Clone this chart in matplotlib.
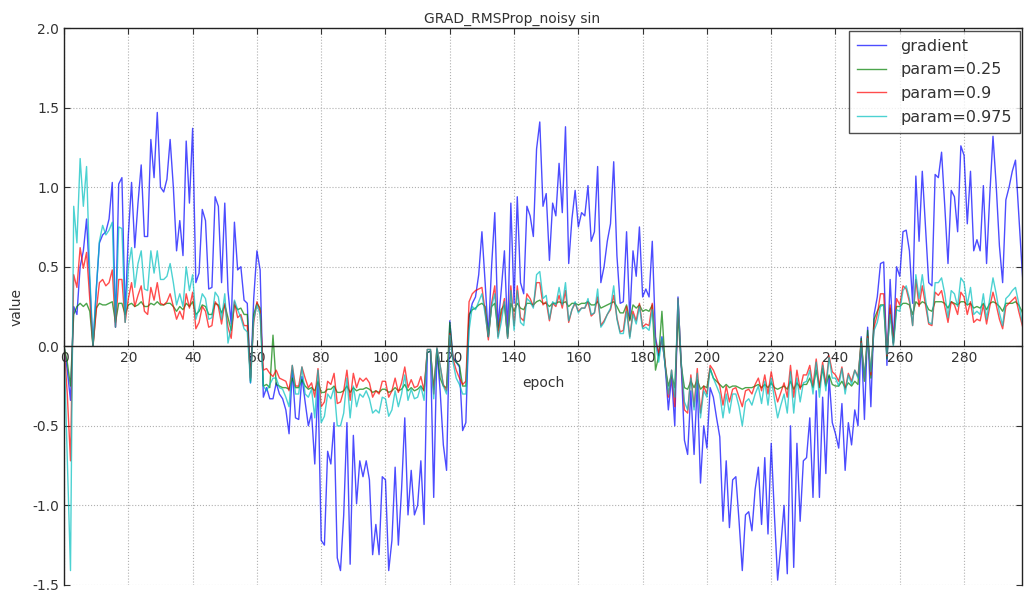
import matplotlib
matplotlib.use("Agg")
import matplotlib.pyplot as plt
import numpy as np

title = "GRAD_RMSProp_noisy sin"
x_label = "epoch"
y_label = "value"
series_labels = ["gradient", "param=0.25", "param=0.9", "param=0.975"]
x_ticks = list(range(0, 300, 20))
y_ticks = [-1.5, -1.0, -0.5, 0.0, 0.5, 1.0, 1.5, 2.0]

gradient = [
    0.0, -0.15, -0.34, 0.25, 0.2, 0.5, 0.6, 0.8, 0.4, 0.0,
    0.35, 0.65, 0.7, 0.72, 0.8, 1.03, 0.12, 1.02, 1.06, 0.2,
    0.7, 1.03, 0.62, 0.9, 1.14, 0.69, 0.69, 1.30, 1.06, 1.47,
    1.0, 0.97, 1.05, 1.30, 1.0, 0.6, 0.79, 0.57, 1.29, 0.9,
    1.37, 0.4, 0.46, 0.86, 0.79, 0.36, 0.37, 0.94, 0.88, 0.4,
    0.9, 0.35, 0.14, 0.78, 0.48, 0.5, 0.29, 0.27, -0.23, 0.3,
    0.6, 0.48, -0.32, -0.26, -0.33, -0.33, -0.23, -0.3, -0.33, -0.4,
    -0.55, -0.15, -0.45, -0.46, -0.19, -0.35, -0.50, -0.42, -0.74, -0.23,
    -1.22, -1.25, -0.66, -0.74, -0.48, -1.33, -1.41, -1.06, -0.48, -1.37,
    -0.56, -0.99, -0.72, -0.82, -0.72, -0.84, -1.31, -1.12, -1.31, -0.82,
    -0.84, -1.41, -1.22, -0.76, -1.25, -0.9, -0.45, -1.06, -0.78, -1.06,
    -1.0, -0.72, -1.12, -0.04, -0.03, -0.95, -0.02, -0.28, -0.62, -0.78,
    0.16, -0.07, -0.1, -0.13, -0.53, -0.48, 0.18, 0.27, 0.31, 0.45,
    0.72, 0.4, 0.06, 0.5, 0.84, 0.12, 0.35, 0.6, 0.08, 0.9,
    0.27, 0.94, 0.4, 0.33, 0.88, 0.82, 0.69, 1.24, 1.41, 0.88,
    0.96, 0.54, 0.9, 0.82, 1.15, 0.84, 1.38, 0.52, 0.8, 0.98,
    0.75, 0.84, 0.82, 1.01, 0.66, 0.72, 1.13, 0.4, 0.5, 0.66,
    0.77, 1.16, 0.57, 0.27, 0.28, 0.72, 0.17, 0.6, 0.44, 0.75,
    0.31, 0.36, 0.31, 0.66, 0.06, -0.06, 0.06, -0.12, -0.40, -0.19,
    -0.5, 0.31, -0.12, -0.59, -0.68, -0.28, -0.68, -0.23, -0.86, -0.5,
    -0.64, -0.26, -0.32, -0.45, -0.57, -1.10, -0.72, -1.14, -0.84, -0.82,
    -1.10, -1.41, -1.06, -1.04, -1.16, -0.90, -0.76, -1.12, -0.70, -1.18,
    -0.61, -1.06, -1.47, -1.25, -1.0, -1.43, -0.5, -1.39, -0.61, -1.10,
    -0.72, -0.70, -0.45, -0.95, -0.28, -0.95, -0.32, -0.80, -0.19, -0.48,
    -0.55, -0.64, -0.36, -0.78, -0.48, -0.62, -0.40, -0.50, 0.06, -0.46,
    0.12, -0.38, 0.2, 0.31, 0.52, 0.53, -0.12, 0.42, 0.02, 0.5,
    0.44, 0.72, 0.73, 0.6, 0.27, 1.07, 0.66, 1.10, 0.75, 0.4,
    0.38, 1.08, 1.06, 1.22, 0.88, 0.52, 0.98, 0.94, 0.72, 1.26,
    1.2, 0.77, 1.10, 0.6, 0.67, 0.6, 1.01, 0.52, 0.95, 1.32,
    1.01, 0.63, 0.4, 0.92, 1.0, 1.1, 1.17, 0.84, 0.5, 0.2,
]

param_025 = [
    0.0, -0.1, -0.25, 0.2, 0.25, 0.27, 0.25, 0.27, 0.22, 0.0,
    0.24, 0.27, 0.26, 0.26, 0.27, 0.28, 0.15, 0.27, 0.27, 0.2,
    0.26, 0.27, 0.25, 0.26, 0.28, 0.25, 0.25, 0.27, 0.26, 0.28,
    0.26, 0.26, 0.27, 0.27, 0.25, 0.22, 0.25, 0.23, 0.27, 0.25,
    0.28, 0.2, 0.22, 0.26, 0.25, 0.2, 0.2, 0.27, 0.26, 0.21,
    0.26, 0.18, 0.1, 0.26, 0.23, 0.24, 0.2, 0.2, -0.22, 0.2,
    0.27, 0.24, -0.25, -0.24, -0.26, 0.07, -0.24, -0.25, -0.26, -0.26,
    -0.27, -0.2, -0.26, -0.26, -0.21, -0.25, -0.27, -0.26, -0.28, -0.22,
    -0.29, -0.29, -0.27, -0.27, -0.25, -0.29, -0.29, -0.28, -0.25, -0.29,
    -0.26, -0.28, -0.27, -0.27, -0.26, -0.27, -0.29, -0.28, -0.29, -0.27,
    -0.27, -0.29, -0.28, -0.26, -0.28, -0.27, -0.24, -0.28, -0.26, -0.28,
    -0.27, -0.25, -0.28, -0.04, -0.03, -0.27, -0.02, -0.2, -0.25, -0.26,
    0.15, -0.08, -0.1, -0.12, -0.25, -0.25, 0.2, 0.23, 0.24, 0.26,
    0.27, 0.25, 0.06, 0.25, 0.27, 0.1, 0.23, 0.26, 0.06, 0.27,
    0.22, 0.27, 0.24, 0.23, 0.27, 0.27, 0.26, 0.28, 0.29, 0.27,
    0.27, 0.25, 0.27, 0.27, 0.28, 0.27, 0.28, 0.25, 0.27, 0.27,
    0.26, 0.27, 0.27, 0.28, 0.26, 0.26, 0.28, 0.24, 0.25, 0.26,
    0.27, 0.28, 0.25, 0.21, 0.21, 0.26, 0.16, 0.26, 0.24, 0.26,
    0.22, 0.23, 0.22, 0.26, -0.15, -0.06, 0.22, -0.12, -0.25, -0.18,
    -0.26, 0.2, -0.12, -0.26, -0.27, -0.22, -0.26, -0.21, -0.27, -0.25,
    -0.26, -0.14, -0.2, -0.22, -0.24, -0.26, -0.24, -0.26, -0.25, -0.25,
    -0.26, -0.27, -0.26, -0.26, -0.26, -0.25, -0.24, -0.26, -0.24, -0.26,
    -0.23, -0.26, -0.27, -0.26, -0.25, -0.27, -0.22, -0.27, -0.23, -0.26,
    -0.24, -0.24, -0.2, -0.26, -0.15, -0.26, -0.14, -0.25, -0.18, -0.24,
    -0.25, -0.25, -0.22, -0.26, -0.23, -0.25, -0.22, -0.24, 0.05, -0.22,
    0.1, -0.2, 0.17, 0.22, 0.26, 0.26, -0.08, 0.24, 0.02, 0.25,
    0.25, 0.27, 0.27, 0.26, 0.2, 0.28, 0.26, 0.28, 0.27, 0.23,
    0.22, 0.28, 0.28, 0.28, 0.27, 0.24, 0.28, 0.27, 0.26, 0.28,
    0.28, 0.26, 0.27, 0.24, 0.25, 0.24, 0.27, 0.23, 0.27, 0.28,
    0.27, 0.25, 0.22, 0.27, 0.27, 0.27, 0.28, 0.26, 0.22, 0.15,
]

param_09 = [
    0.0, -0.3, -0.72, 0.45, 0.37, 0.62, 0.49, 0.59, 0.3, 0.0,
    0.22, 0.4, 0.42, 0.38, 0.4, 0.48, 0.12, 0.42, 0.42, 0.15,
    0.3, 0.4, 0.25, 0.32, 0.38, 0.22, 0.2, 0.37, 0.29, 0.4,
    0.27, 0.26, 0.28, 0.33, 0.25, 0.17, 0.22, 0.17, 0.33, 0.24,
    0.34, 0.11, 0.15, 0.25, 0.22, 0.12, 0.13, 0.28, 0.25, 0.14,
    0.27, 0.12, 0.05, 0.28, 0.18, 0.2, 0.13, 0.13, -0.2, 0.15,
    0.28, 0.22, -0.15, -0.14, -0.17, -0.19, -0.15, -0.2, -0.21, -0.22,
    -0.28, -0.12, -0.25, -0.25, -0.13, -0.2, -0.26, -0.23, -0.32, -0.14,
    -0.38, -0.35, -0.22, -0.24, -0.17, -0.36, -0.35, -0.28, -0.15, -0.34,
    -0.17, -0.26, -0.2, -0.22, -0.2, -0.23, -0.32, -0.28, -0.3, -0.22,
    -0.22, -0.32, -0.28, -0.2, -0.29, -0.23, -0.13, -0.26, -0.21, -0.26,
    -0.25, -0.19, -0.28, -0.02, -0.02, -0.3, -0.01, -0.12, -0.24, -0.28,
    0.08, -0.08, -0.15, -0.2, -0.24, -0.22, 0.28, 0.33, 0.35, 0.36,
    0.37, 0.22, 0.04, 0.27, 0.38, 0.06, 0.2, 0.3, 0.05, 0.38,
    0.13, 0.38, 0.18, 0.16, 0.33, 0.3, 0.25, 0.4, 0.4, 0.26,
    0.28, 0.16, 0.27, 0.25, 0.32, 0.24, 0.35, 0.15, 0.23, 0.27,
    0.22, 0.24, 0.24, 0.28, 0.19, 0.21, 0.31, 0.13, 0.16, 0.2,
    0.23, 0.32, 0.18, 0.09, 0.1, 0.25, 0.06, 0.22, 0.16, 0.27,
    0.12, 0.14, 0.13, 0.27, 0.03, -0.04, 0.04, -0.1, -0.32, -0.15,
    -0.38, 0.3, -0.1, -0.4, -0.42, -0.18, -0.38, -0.14, -0.42, -0.25,
    -0.3, -0.12, -0.15, -0.2, -0.25, -0.37, -0.25, -0.35, -0.27, -0.26,
    -0.32, -0.38, -0.28, -0.27, -0.3, -0.24, -0.2, -0.28, -0.18, -0.3,
    -0.16, -0.27, -0.35, -0.29, -0.23, -0.32, -0.12, -0.32, -0.15, -0.27,
    -0.18, -0.18, -0.12, -0.25, -0.08, -0.26, -0.1, -0.24, -0.06, -0.16,
    -0.18, -0.22, -0.13, -0.27, -0.17, -0.22, -0.15, -0.19, 0.03, -0.2,
    0.06, -0.18, 0.12, 0.2, 0.33, 0.33, -0.06, 0.26, 0.01, 0.3,
    0.26, 0.38, 0.36, 0.28, 0.13, 0.42, 0.25, 0.38, 0.26, 0.14,
    0.13, 0.34, 0.32, 0.35, 0.25, 0.15, 0.28, 0.26, 0.2, 0.34,
    0.31, 0.2, 0.28, 0.15, 0.17, 0.16, 0.26, 0.14, 0.25, 0.34,
    0.26, 0.17, 0.11, 0.25, 0.27, 0.29, 0.31, 0.22, 0.14, 0.06,
]

param_0975 = [
    0.0, -0.7, -1.41, 0.88, 0.65, 1.18, 0.88, 1.13, 0.45, 0.0,
    0.35, 0.66, 0.76, 0.7, 0.73, 0.78, 0.12, 0.75, 0.74, 0.15,
    0.5, 0.62, 0.37, 0.52, 0.6, 0.36, 0.35, 0.6, 0.46, 0.6,
    0.42, 0.42, 0.44, 0.52, 0.4, 0.26, 0.33, 0.25, 0.5, 0.35,
    0.45, 0.17, 0.24, 0.33, 0.3, 0.17, 0.18, 0.34, 0.31, 0.17,
    0.33, 0.02, 0.12, 0.29, 0.23, 0.18, 0.11, 0.09, -0.23, 0.17,
    0.26, 0.2, -0.25, -0.28, -0.24, -0.2, -0.2, -0.26, -0.27, -0.32,
    -0.38, -0.12, -0.3, -0.3, -0.13, -0.3, -0.32, -0.27, -0.45, -0.15,
    -0.48, -0.44, -0.3, -0.33, -0.26, -0.5, -0.5, -0.42, -0.2, -0.45,
    -0.25, -0.38, -0.3, -0.32, -0.28, -0.33, -0.42, -0.4, -0.42, -0.32,
    -0.33, -0.44, -0.4, -0.28, -0.38, -0.3, -0.18, -0.34, -0.27, -0.33,
    -0.32, -0.25, -0.34, -0.02, -0.02, -0.33, -0.01, -0.12, -0.25, -0.3,
    0.07, -0.1, -0.2, -0.24, -0.3, -0.3, 0.1, 0.25, 0.23, 0.28,
    0.33, 0.2, 0.06, 0.25, 0.33, 0.05, 0.15, 0.28, 0.05, 0.35,
    0.1, 0.35, 0.15, 0.13, 0.3, 0.28, 0.24, 0.45, 0.47, 0.3,
    0.32, 0.17, 0.28, 0.26, 0.37, 0.26, 0.4, 0.16, 0.23, 0.28,
    0.21, 0.24, 0.24, 0.3, 0.2, 0.21, 0.36, 0.12, 0.15, 0.2,
    0.24, 0.38, 0.17, 0.08, 0.08, 0.22, 0.05, 0.2, 0.14, 0.25,
    0.11, 0.12, 0.1, 0.23, 0.02, -0.1, 0.05, -0.12, -0.3, -0.15,
    -0.32, 0.3, -0.1, -0.35, -0.4, -0.2, -0.4, -0.17, -0.45, -0.28,
    -0.32, -0.14, -0.2, -0.25, -0.3, -0.45, -0.3, -0.42, -0.3, -0.3,
    -0.38, -0.5, -0.35, -0.33, -0.37, -0.3, -0.25, -0.36, -0.22, -0.37,
    -0.2, -0.33, -0.45, -0.37, -0.3, -0.42, -0.16, -0.42, -0.2, -0.35,
    -0.23, -0.22, -0.15, -0.3, -0.1, -0.32, -0.12, -0.28, -0.07, -0.2,
    -0.2, -0.25, -0.14, -0.3, -0.18, -0.24, -0.15, -0.2, 0.02, -0.2,
    0.05, -0.16, 0.1, 0.15, 0.25, 0.26, -0.05, 0.2, 0.0, 0.23,
    0.22, 0.35, 0.38, 0.3, 0.13, 0.45, 0.3, 0.45, 0.3, 0.15,
    0.14, 0.4, 0.4, 0.43, 0.33, 0.18, 0.35, 0.33, 0.25, 0.43,
    0.4, 0.26, 0.37, 0.2, 0.22, 0.2, 0.33, 0.17, 0.3, 0.43,
    0.33, 0.21, 0.13, 0.3, 0.32, 0.35, 0.37, 0.27, 0.16, 0.07,
]

epochs = np.arange(len(gradient))

fig = plt.figure(figsize=(10.25, 5.92), dpi=100)
fig.patch.set_facecolor("white")
ax = fig.add_axes([0.0625, 0.012, 0.9345, 0.9405])

text_color = "#333333"
ax.plot(epochs, gradient, color="#0000ff", alpha=0.7, lw=1.0, label=series_labels[0])
ax.plot(epochs, param_025, color="#007f00", alpha=0.7, lw=1.0, label=series_labels[1])
ax.plot(epochs, param_09, color="#ff0000", alpha=0.7, lw=1.0, label=series_labels[2])
ax.plot(epochs, param_0975, color="#00bfbf", alpha=0.7, lw=1.0, label=series_labels[3])

ax.set_xlim(0, 298)
ax.set_ylim(-1.5, 2.0)
ax.set_xticks(x_ticks)
ax.set_yticks(y_ticks)
ax.set_yticklabels([f"{v:.1f}" for v in y_ticks])

ax.spines["bottom"].set_position(("data", 0))
for s in ax.spines.values():
    s.set_color("#222222")
    s.set_linewidth(1.0)

ax.tick_params(direction="in", top=True, right=True, labelsize=10,
               colors=text_color, length=4)
ax.grid(True, linestyle=":", color="#b0b0b0", linewidth=0.8)
ax.set_axisbelow(True)

ax.set_title(title, fontsize=10, color=text_color, pad=4, x=0.468)
ax.set_xlabel(x_label, fontsize=10, color=text_color, labelpad=8)
ax.set_ylabel(y_label, fontsize=10, color=text_color, labelpad=6)

leg = ax.legend(loc="upper right", fontsize=11.5, frameon=True, fancybox=False,
                borderaxespad=0.15, handlelength=1.8, handletextpad=0.9,
                labelspacing=0.55, borderpad=0.5)
leg.get_frame().set_edgecolor("#222222")
leg.get_frame().set_linewidth(1.0)
for t in leg.get_texts():
    t.set_color(text_color)

fig.savefig("out.png", dpi=100, facecolor="white")
